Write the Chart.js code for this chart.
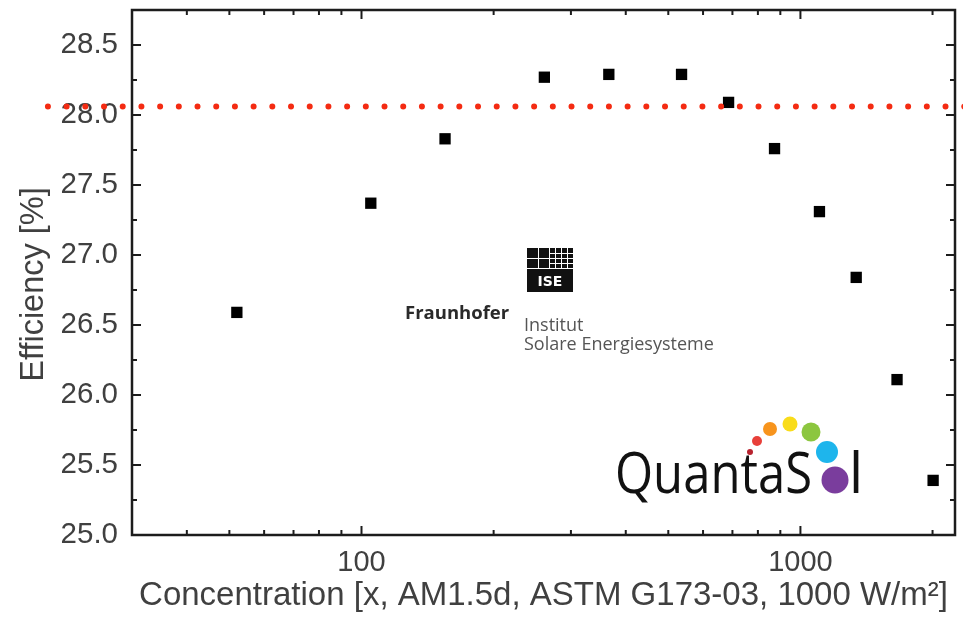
<!DOCTYPE html>
<html>
<head>
<meta charset="utf-8">
<title>Efficiency vs. concentration</title>
<script src="https://cdn.jsdelivr.net/npm/chart.js@4.4.1/dist/chart.umd.min.js"></script>
<style>
  html, body { margin: 0; padding: 0; background: #fff; }
  #wrap { width: 963px; height: 617px; }
</style>
</head>
<body>
<div id="wrap"><canvas id="effChart" width="963" height="617"></canvas></div>
<script>
// measured cell efficiency against concentration (suns)
const concentration = [52, 105, 155, 261, 366, 536, 686, 873, 1105, 1340, 1660, 2006];
const efficiency = [26.59, 27.37, 27.83, 28.27, 28.29, 28.29, 28.09, 27.76, 27.31, 26.84, 26.11, 25.39];

// dotted reference level, runs past both ends of the plot
const refLevel = 28.06;
const refSpan = [19.3, 2400];

const yTicks = [25.0, 25.5, 26.0, 26.5, 27.0, 27.5, 28.0, 28.5];
const yMinorTicks = [25.25, 25.75, 26.25, 26.75, 27.25, 27.75, 28.25];
const xTicks = [100, 1000];
const xMinorTicks = [40, 50, 60, 70, 80, 90, 200, 300, 400, 500, 600, 700, 800, 900, 2000];

const textColor = '#404040';
const axisFont = 'Liberation Sans, Arial, sans-serif';

// box with inward ticks on all four sides, plus the y axis title
const framePlugin = {
    id: 'frame',
    afterDraw(chart) {
        const { ctx, chartArea: { left, right, top, bottom }, scales: { x, y } } = chart;
        ctx.save();
        ctx.strokeStyle = '#1c1c1c';
        ctx.lineWidth = 2.5;
        ctx.strokeRect(left, top, right - left, bottom - top);
        ctx.lineWidth = 2;
        const seg = (x1, y1, x2, y2) => { ctx.beginPath(); ctx.moveTo(x1, y1); ctx.lineTo(x2, y2); ctx.stroke(); };
        xTicks.forEach(v => { const p = x.getPixelForValue(v); seg(p, bottom, p, bottom - 9); seg(p, top, p, top + 9); });
        xMinorTicks.forEach(v => { const p = x.getPixelForValue(v); seg(p, bottom, p, bottom - 5); seg(p, top, p, top + 5); });
        yTicks.forEach(v => { const p = y.getPixelForValue(v); seg(left, p, left + 9, p); seg(right, p, right - 9, p); });
        yMinorTicks.forEach(v => { const p = y.getPixelForValue(v); seg(left, p, left + 5, p); seg(right, p, right - 5, p); });

        // y title sits a little below the middle of the axis
        ctx.translate(34, (top + bottom) / 2 + 12);
        ctx.rotate(-Math.PI / 2);
        ctx.fillStyle = textColor;
        ctx.font = '32.5px ' + axisFont;
        ctx.textAlign = 'center';
        ctx.textBaseline = 'middle';
        ctx.fillText('Efficiency [%]', 0, 0);
        ctx.restore();
    }
};

// institute and partner logos inside the plot
const logoPlugin = {
    id: 'logos',
    beforeDatasetsDraw(chart) {
        const ctx = chart.ctx;
        ctx.save();

        // ISE block
        const bx = 527, by = 248, bw = 46, bh = 44;
        ctx.fillStyle = '#111';
        ctx.fillRect(bx, by, bw, bh);
        ctx.strokeStyle = '#fff';
        ctx.lineWidth = 1;
        const line = (x1, y1, x2, y2) => { ctx.beginPath(); ctx.moveTo(x1, y1); ctx.lineTo(x2, y2); ctx.stroke(); };
        line(bx, by + 10.5, bx + bw, by + 10.5);
        line(bx, by + 20.5, bx + bw, by + 20.5);
        line(bx + 11.5, by, bx + 11.5, by + 20);
        line(bx + 22.5, by, bx + 22.5, by + 20);
        for (let i = 1; i < 4; i++) line(bx + 22.5 + i * 6, by, bx + 22.5 + i * 6, by + 20);
        line(bx + 23, by + 5.5, bx + bw, by + 5.5);
        line(bx + 23, by + 15.5, bx + bw, by + 15.5);
        ctx.fillStyle = '#fff';
        ctx.font = 'bold 14px "DejaVu Sans", sans-serif';
        ctx.textAlign = 'center';
        ctx.textBaseline = 'alphabetic';
        ctx.fillText('ISE', bx + bw / 2, by + 38);

        ctx.textAlign = 'left';
        ctx.fillStyle = '#2a2a2a';
        ctx.font = 'bold 18.5px "Open Sans", sans-serif';
        ctx.fillText('Fraunhofer', 405, 319, 108);
        ctx.fillStyle = '#555';
        ctx.font = '18px "Open Sans", sans-serif';
        ctx.fillText('Institut', 524, 331);
        ctx.fillText('Solare Energiesysteme', 524, 350, 198);

        // QuantaSol word mark with the coloured dot arc
        const dots = [
            [750, 452, 3, '#b8232f'],
            [757, 441, 5, '#e8403a'],
            [770, 429, 7, '#f7941d'],
            [790, 424, 7.5, '#f9dc1a'],
            [811, 432, 9.5, '#8cc63f'],
            [827, 452, 11, '#1eb5ec'],
            [835, 480, 13.5, '#7a3d9d']
        ];
        dots.forEach(([cx, cy, r, c]) => {
            ctx.beginPath();
            ctx.arc(cx, cy, r, 0, Math.PI * 2);
            ctx.fillStyle = c;
            ctx.fill();
        });
        ctx.fillStyle = '#111';
        ctx.font = '56px "Open Sans", sans-serif';
        const word = 'QuantaS';
        const sx = 197 / ctx.measureText(word).width;
        ctx.save();
        ctx.translate(615, 493);
        ctx.scale(sx, 1);
        ctx.fillText(word, 0, 0);
        ctx.restore();
        ctx.fillText('l', 849, 493);

        ctx.restore();
    }
};

document.addEventListener('DOMContentLoaded', function () {
    const ctx = document.getElementById('effChart').getContext('2d');

    new Chart(ctx, {
        type: 'scatter',
        data: {
            datasets: [
                {
                    type: 'line',
                    data: refSpan.map(v => ({ x: v, y: refLevel })),
                    borderColor: '#f42b12',
                    borderWidth: 6,
                    borderDash: [0, 18.7],
                    borderCapStyle: 'round',
                    pointRadius: 0,
                    fill: false,
                    clip: false
                },
                {
                    data: concentration.map((v, i) => ({ x: v, y: efficiency[i] })),
                    pointStyle: 'rect',
                    pointRadius: 8,
                    backgroundColor: '#000',
                    borderWidth: 0
                }
            ]
        },
        options: {
            responsive: false,
            animation: false,
            layout: { padding: { top: 10, right: 8, left: 0, bottom: 0 } },
            plugins: {
                legend: { display: false },
                tooltip: { enabled: false }
            },
            scales: {
                x: {
                    type: 'logarithmic',
                    min: 30,
                    max: 2250,
                    grid: { display: false, drawTicks: false },
                    border: { display: false },
                    afterBuildTicks: s => { s.ticks = xTicks.map(v => ({ value: v })); },
                    afterFit: s => { s.height = 82; s.paddingLeft = 0; s.paddingRight = 0; },
                    ticks: {
                        padding: 11,
                        autoSkip: false,
                        maxRotation: 0,
                        color: textColor,
                        font: { family: axisFont, size: 29 },
                        callback: v => String(v)
                    },
                    title: {
                        display: true,
                        text: 'Concentration [x, AM1.5d, ASTM G173-03, 1000 W/m²]',
                        color: textColor,
                        font: { family: axisFont, size: 33 },
                        padding: { top: 0, bottom: 1 }
                    }
                },
                y: {
                    min: 25,
                    max: 28.75,
                    grid: { display: false, drawTicks: false },
                    border: { display: false },
                    afterBuildTicks: s => { s.ticks = yTicks.map(v => ({ value: v })); },
                    afterFit: s => { s.width = 132; s.paddingTop = 0; s.paddingBottom = 0; },
                    ticks: {
                        padding: 14,
                        color: textColor,
                        font: { family: axisFont, size: 29.5 },
                        callback: v => Number(v).toFixed(1)
                    }
                }
            }
        },
        plugins: [framePlugin, logoPlugin]
    });
});
</script>
</body>
</html>
